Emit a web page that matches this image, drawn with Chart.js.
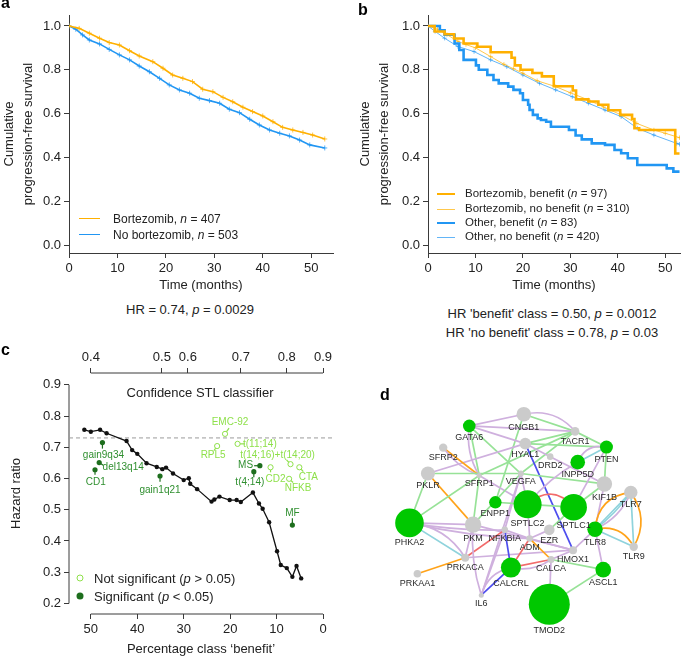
<!DOCTYPE html>
<html>
<head>
<meta charset="utf-8">
<script src="https://cdn.jsdelivr.net/npm/chart.js@4.4.1/dist/chart.umd.min.js"></script>
<style>
  body { margin: 0; background: #fff; font-family: "Liberation Sans", Arial, sans-serif; color: #222; }
  #page { position: relative; width: 685px; height: 659px; overflow: hidden; }
  canvas { position: absolute; }
  .lbl { position: absolute; white-space: nowrap; line-height: 1; }
  .mid { transform: translate(-50%, -50%); }
  .vmid { transform: translateY(-50%); }
  .key { position: absolute; height: 0; }
  .dot { position: absolute; width: 7px; height: 7px; border-radius: 50%; transform: translate(-50%, -50%); box-sizing: border-box; }
  .panel { position: absolute; font-weight: bold; font-size: 16px; line-height: 16px; color: #000; }
</style>
</head>
<body>
<div id="page">
  <canvas id="kmA" width="342" height="300" style="left:0;top:0"></canvas>
  <canvas id="kmB" width="343" height="300" style="left:342px;top:0"></canvas>
  <canvas id="hrC" width="342" height="319" style="left:0;top:340px"></canvas>
  <canvas id="netD" width="340" height="319" style="left:345px;top:340px"></canvas>

  <div class="panel" style="left:1px;top:-5px">a</div>
  <div class="panel" style="left:358px;top:2px">b</div>
  <div class="panel" style="left:1px;top:342px">c</div>
  <div class="panel" style="left:380px;top:387px">d</div>

  <!-- panel a legend + HR -->
  <div class="key" style="left:79px;top:218px;width:21px;border-top:1.6px solid #ffb000"></div>
  <div class="key" style="left:79px;top:234px;width:21px;border-top:1.6px solid #2196f3"></div>
  <div class="lbl vmid" style="left:113px;top:219px;font-size:12px">Bortezomib, <i>n</i> = 407</div>
  <div class="lbl vmid" style="left:113px;top:235px;font-size:12px">No bortezomib, <i>n</i> = 503</div>
  <div class="lbl mid" style="left:190px;top:309px;font-size:13px">HR = 0.74, <i>p</i> = 0.0029</div>

  <!-- panel b legend + HR -->
  <div class="key" style="left:437px;top:193px;width:18px;border-top:2.6px solid #ffb000"></div>
  <div class="key" style="left:437px;top:208.5px;width:18px;border-top:1px solid rgba(255,176,0,0.7)"></div>
  <div class="key" style="left:437px;top:222px;width:18px;border-top:2.6px solid #2196f3"></div>
  <div class="key" style="left:437px;top:236.5px;width:18px;border-top:1px solid rgba(33,150,243,0.7)"></div>
  <div class="lbl vmid" style="left:465px;top:194px;font-size:11.5px">Bortezomib, benefit (<i>n</i> = 97)</div>
  <div class="lbl vmid" style="left:465px;top:209px;font-size:11.5px">Bortezomib, no benefit (<i>n</i> = 310)</div>
  <div class="lbl vmid" style="left:465px;top:223px;font-size:11.5px">Other, benefit (<i>n</i> = 83)</div>
  <div class="lbl vmid" style="left:465px;top:237px;font-size:11.5px">Other, no benefit (<i>n</i> = 420)</div>
  <div class="lbl mid" style="left:552px;top:313px;font-size:13px">HR 'benefit' class = 0.50, <i>p</i> = 0.0012</div>
  <div class="lbl mid" style="left:552px;top:332px;font-size:13px">HR 'no benefit' class = 0.78, <i>p</i> = 0.03</div>

  <!-- panel c extra text + legend -->
  <div class="lbl mid" style="left:200px;top:392px;font-size:13px">Confidence STL classifier</div>
  <div class="dot" style="left:80px;top:578px;border:1px solid #8ee04a;background:#fff"></div>
  <div class="dot" style="left:80px;top:596px;background:#1d6e1d"></div>
  <div class="lbl vmid" style="left:94px;top:578px;font-size:13px">Not significant (<i>p</i> &gt; 0.05)</div>
  <div class="lbl vmid" style="left:94px;top:596px;font-size:13px">Significant (<i>p</i> &lt; 0.05)</div>
</div>

<script>
// ---------- panel a: progression-free survival ----------
const aTimeBort = [0, 2.1, 4.2, 6.3, 8.3, 10.4, 12.5, 14.5, 17.3, 19.4, 21.4, 23.5, 25.5, 27.6, 29.7, 31.8, 33.8, 35.9, 37.9, 40.0, 42.1, 44.1, 46.2, 48.3, 50.3, 52.8];
const aSurvBort = [1.0, 0.989, 0.967, 0.944, 0.924, 0.913, 0.887, 0.863, 0.837, 0.807, 0.776, 0.761, 0.746, 0.711, 0.700, 0.674, 0.654, 0.629, 0.609, 0.589, 0.563, 0.537, 0.525, 0.514, 0.502, 0.484];
const aTimeNone = [0, 1.4, 2.8, 4.2, 6.3, 8.3, 10.4, 12.5, 14.5, 16.6, 18.7, 20.7, 22.8, 24.9, 26.9, 29.0, 31.1, 33.1, 35.2, 37.3, 39.3, 41.4, 43.5, 45.5, 47.6, 49.7, 52.8];
const aSurvNone = [1.0, 0.985, 0.959, 0.936, 0.918, 0.893, 0.868, 0.845, 0.817, 0.791, 0.761, 0.731, 0.708, 0.693, 0.670, 0.659, 0.647, 0.620, 0.604, 0.574, 0.548, 0.525, 0.510, 0.498, 0.479, 0.457, 0.443];

// ---------- panel b: split by STL class ----------
const bTimeBortBen = [0, 1.4, 3.5, 5.5, 7.5, 10.4, 13.2, 17.6, 18.3, 19.5, 22, 24, 26.5, 30.5, 31.2, 33.8, 35.9, 38, 40.5, 43, 43.5, 44.5, 52.1, 53];
const bSurvBortBen = [1.0, 0.975, 0.962, 0.943, 0.92, 0.905, 0.88, 0.855, 0.82, 0.80, 0.785, 0.77, 0.725, 0.705, 0.665, 0.655, 0.64, 0.615, 0.594, 0.575, 0.533, 0.525, 0.418, 0.418];
const bTimeBortNo = [0, 2, 4, 6.3, 8, 10, 13.2, 16, 18, 20, 23, 26.9, 30, 33.8, 37, 40.7, 44, 47.6, 50, 53];
const bSurvBortNo = [1.0, 0.985, 0.96, 0.93, 0.915, 0.90, 0.86, 0.825, 0.805, 0.784, 0.75, 0.723, 0.695, 0.662, 0.63, 0.594, 0.555, 0.525, 0.51, 0.49];
const bTimeOthBen = [0, 2.5, 3.5, 5.6, 6.6, 7.5, 10.1, 10.7, 12.5, 13.8, 14.9, 16.9, 18, 19.4, 20, 21.1, 21.4, 22.1, 23.1, 23.8, 24.9, 25.9, 29.7, 31.1, 32.4, 34.5, 37.3, 39.3, 40.7, 42.1, 44.1, 50.3, 51.7, 53];
const bSurvOthBen = [1.0, 0.98, 0.96, 0.92, 0.89, 0.845, 0.82, 0.80, 0.776, 0.753, 0.738, 0.723, 0.708, 0.693, 0.662, 0.64, 0.616, 0.594, 0.578, 0.571, 0.563, 0.54, 0.525, 0.50, 0.482, 0.464, 0.457, 0.434, 0.419, 0.396, 0.365, 0.35, 0.335, 0.335];
const bTimeOthNo = [0, 1.5, 3.5, 6.3, 9.7, 13.2, 16.6, 20, 23.5, 26.9, 30.4, 33.8, 37.3, 40.7, 44.1, 47.6, 52.4, 53];
const bSurvOthNo = [1.0, 0.975, 0.944, 0.906, 0.883, 0.845, 0.814, 0.776, 0.738, 0.708, 0.677, 0.647, 0.616, 0.586, 0.533, 0.502, 0.464, 0.46];

const survTicks = [0, 0.2, 0.4, 0.6, 0.8, 1.0];
const timeTicks = [0, 10, 20, 30, 40, 50];

// ---------- panel c: hazard ratio vs class size ----------
const cPct = [51.4, 50.0, 48.0, 46.6, 42.3, 41.1, 40.0, 38.0, 35.8, 34.6, 33.8, 32.3, 30.0, 28.9, 28.6, 27.1, 24.0, 23.4, 22.3, 20.1, 18.6, 17.7, 15.1, 13.8, 13.0, 11.6, 9.9, 9.1, 7.8, 6.6, 5.7, 4.7];
const cHR  = [0.756, 0.750, 0.756, 0.745, 0.720, 0.691, 0.679, 0.649, 0.637, 0.630, 0.635, 0.616, 0.595, 0.601, 0.583, 0.566, 0.526, 0.533, 0.542, 0.531, 0.531, 0.525, 0.555, 0.520, 0.503, 0.460, 0.367, 0.323, 0.313, 0.285, 0.320, 0.280];
const hrTicks = [0.2, 0.3, 0.4, 0.5, 0.6, 0.7, 0.8, 0.9];
const pctTicks = [50, 40, 30, 20, 10, 0];
const confLabels = ['0.4', '0.5', '0.6', '0.7', '0.8', '0.9'];
const confPct = [50, 34.7, 29.1, 17.7, 7.8, 0];
const hrCutoff = 0.73;

const markerNames = ['gain9q34', 'del13q14', 'CD1', 'gain1q21', 'MS', 't(4;14)', 'MF', 'EMC-92', 'RPL5', 't(11;14)', 't(14;16)+t(14;20)', 'CD2', 'NFKB', 'CTA'];
const markerPct   = [47.5, 48.2, 49.1, 35.1, 13.6, 14.9, 6.6, 21.1, 22.8, 18.4, 7.0, 11.3, 7.3, 5.1];
const markerHR    = [0.715, 0.651, 0.628, 0.608, 0.641, 0.622, 0.451, 0.743, 0.704, 0.711, 0.646, 0.636, 0.599, 0.636];
const markerSig   = [1, 1, 1, 1, 1, 1, 1, 0, 0, 0, 0, 0, 0, 0];

// ---------- panel d: gene network ----------
const geneNames = ['CNGB1', 'TACR1', 'GATA6', 'HYAL1', 'SFRP2', 'PTEN', 'DRD2', 'INPP5D', 'PKLR', 'SFRP1', 'VEGFA', 'KIF1B', 'TLR7', 'ENPP1', 'SPTLC2', 'SPTLC1', 'PHKA2', 'PKM', 'TLR8', 'NFKBIA', 'EZR', 'ADM', 'TLR9', 'HMOX1', 'PRKACA', 'CALCA', 'CALCRL', 'ASCL1', 'PRKAA1', 'IL6', 'TMOD2'];
const geneX = [54.0, 71.5, 35.4, 54.5, 26.5, 82.2, 63.0, 72.4, 21.3, 38.8, 53.0, 81.5, 90.5, 44.3, 55.3, 71.0, 15.0, 36.7, 78.3, 47.5, 62.7, 56.0, 91.5, 70.8, 34.0, 63.3, 49.6, 81.1, 17.7, 39.5, 62.7];
const geneY = [18.5, 24.4, 22.5, 28.6, 30.0, 29.8, 33.1, 35.0, 38.9, 39.6, 38.9, 42.5, 45.4, 48.8, 49.5, 50.5, 55.9, 56.5, 58.1, 58.3, 58.3, 61.3, 64.1, 65.3, 67.9, 68.5, 71.3, 72.0, 73.4, 80.8, 83.9];
const geneSize = [7.3, 4.3, 6.3, 5.8, 4.2, 6.5, 3.3, 7.3, 7.0, 2.5, 3.0, 7.7, 6.7, 6.2, 14.0, 13.3, 14.3, 8.2, 7.7, 3.3, 5.3, 3.3, 4.2, 4.0, 4.0, 3.5, 10.0, 7.8, 3.8, 2.5, 20.5];
const geneHit = [0, 0, 1, 0, 0, 1, 0, 1, 0, 0, 0, 0, 0, 1, 1, 1, 1, 0, 1, 0, 0, 0, 0, 0, 0, 0, 1, 1, 0, 0, 1];

// interaction: [gene, gene, kind]
const links = [
  ['CNGB1', 'TACR1', 'coexp'], ['CNGB1', 'TACR1', 'path'], ['CNGB1', 'GATA6', 'path'], ['CNGB1', 'ENPP1', 'coexp'],
  ['GATA6', 'TACR1', 'path'], ['GATA6', 'HYAL1', 'path'], ['GATA6', 'SFRP1', 'coexp'], ['GATA6', 'SFRP1', 'path'],
  ['GATA6', 'VEGFA', 'coexp'], ['HYAL1', 'TACR1', 'coexp'], ['HYAL1', 'PTEN', 'coexp'], ['TACR1', 'PTEN', 'coexp'],
  ['TACR1', 'SFRP1', 'coexp'], ['TACR1', 'VEGFA', 'coexp'], ['HYAL1', 'PKLR', 'path'], ['HYAL1', 'HMOX1', 'phys'],
  ['HYAL1', 'DRD2', 'path'], ['SFRP2', 'SFRP1', 'domain'], ['SFRP2', 'SFRP1', 'path'], ['PKLR', 'VEGFA', 'coexp'],
  ['PKLR', 'PKM', 'domain'], ['PHKA2', 'PKLR', 'coexp'], ['PHKA2', 'SFRP1', 'coexp'], ['SFRP1', 'PKM', 'coexp'],
  ['SFRP1', 'SPTLC2', 'path'], ['VEGFA', 'KIF1B', 'coexp'], ['VEGFA', 'PKM', 'coexp'], ['VEGFA', 'SPTLC2', 'path'],
  ['VEGFA', 'NFKBIA', 'path'], ['VEGFA', 'IL6', 'path'], ['DRD2', 'KIF1B', 'path'], ['INPP5D', 'PTEN', 'pred'],
  ['INPP5D', 'PTEN', 'path'], ['INPP5D', 'SPTLC2', 'path'], ['PTEN', 'KIF1B', 'coexp'], ['PTEN', 'SPTLC1', 'path'],
  ['KIF1B', 'SPTLC1', 'coexp'], ['KIF1B', 'TLR8', 'path'], ['ENPP1', 'SPTLC2', 'coexp'], ['SPTLC2', 'SPTLC1', 'coexp'],
  ['SPTLC2', 'SPTLC1', 'genetic'], ['SPTLC2', 'ADM', 'path'], ['SPTLC1', 'EZR', 'coexp'], ['TLR8', 'TLR7', 'domain'],
  ['TLR8', 'TLR7', 'pred'], ['TLR8', 'TLR7', 'pred'], ['TLR8', 'TLR7', 'path'], ['TLR7', 'TLR9', 'domain'],
  ['TLR7', 'TLR9', 'pred'], ['TLR8', 'TLR9', 'domain'], ['TLR8', 'TLR9', 'pred'], ['TLR8', 'ASCL1', 'path'],
  ['TLR8', 'HMOX1', 'path'], ['PHKA2', 'PKM', 'path'], ['PHKA2', 'NFKBIA', 'path'], ['PHKA2', 'ADM', 'path'],
  ['PHKA2', 'PRKACA', 'pred'], ['PHKA2', 'PRKACA', 'path'], ['PKM', 'PRKACA', 'path'], ['PKM', 'HMOX1', 'path'],
  ['PRKACA', 'HMOX1', 'path'], ['PRKACA', 'NFKBIA', 'genetic'], ['PRKAA1', 'PRKACA', 'domain'], ['NFKBIA', 'CALCRL', 'phys'],
  ['NFKBIA', 'IL6', 'path'], ['NFKBIA', 'ADM', 'path'], ['IL6', 'CALCRL', 'phys'], ['IL6', 'CALCRL', 'path'],
  ['IL6', 'PKM', 'path'], ['EZR', 'ADM', 'path'], ['ADM', 'HMOX1', 'path'], ['ADM', 'CALCA', 'domain'],
  ['ADM', 'CALCRL', 'genetic'], ['CALCRL', 'CALCA', 'genetic'], ['CALCRL', 'CALCA', 'path'], ['CALCA', 'ASCL1', 'coexp'],
  ['CALCA', 'TMOD2', 'path'], ['ASCL1', 'TMOD2', 'coexp'], ['CALCA', 'HMOX1', 'path']
];

// ---------- styles ----------
const ORANGE = '#ffb000', BLUE = '#2196f3';
const SIG_DOT = '#1d6e1d', SIG_TXT = '#2f8f2f', NS_COL = '#8ee04a';
const linkColor = { path: '#cfb0de', coexp: '#97e297', domain: '#ffa31a', phys: '#4d4dee', genetic: '#f26b6b', pred: '#8fd3dc' };
// curvature of some links, keyed by index in links
const linkBend = { 1: -0.3, 7: 0.18, 18: 0.15, 32: -0.4, 33: 0.1, 40: -0.5, 43: -0.4, 45: 0.08, 46: 0.2, 47: -0.32, 49: -0.38, 54: 0.05, 55: 0.05, 57: -0.25, 67: -0.3, 68: -0.1, 74: 0.22 };
const markerLayout = {
  'gain9q34': [1, 13, 0, 6], 'del13q14': [24, 4.6, 4, 2.7], 'CD1': [0.7, 12.7, 0, 5], 'gain1q21': [0, 14, 0, 5.7],
  'MS': [-14.3, 0, -5.7, 0], 't(4;14)': [-4, 10.7, 0, 5.7], 'MF': [0, -11.7, 0, -6.7],
  'EMC-92': [5, -11.3, 4, -5.7], 'RPL5': [-4, 9.7, -3.3, 4.7], 't(11;14)': [22.3, 0, 7.3, 0],
  't(14;16)+t(14;20)': [-13, -9.3, -4, -4.3], 'CD2': [5, 11.7, 0, 5], 'NFKB': [9, 9.3, 4, 3.7], 'CTA': [9, 10, 4, 4.3]
};

Chart.defaults.font.family = "'Liberation Sans', Arial, sans-serif";
Chart.defaults.color = '#222';
Chart.defaults.animation = false;
Chart.defaults.responsive = false;
Chart.defaults.plugins.legend.display = false;
Chart.defaults.plugins.tooltip.enabled = false;

function pts(xs, ys) { return xs.map((v, i) => ({ x: v, y: ys[i] })); }

function axis(o) {
  return {
    type: 'linear', min: o.min, max: o.max, reverse: !!o.reverse, position: o.position,
    border: { display: o.border !== false, color: '#3a3a3a', width: 1 },
    grid: { drawOnChartArea: false, drawTicks: true, tickLength: 5, color: '#3a3a3a' },
    ticks: { font: { size: 13 }, color: '#222', padding: 3, autoSkip: false, maxRotation: 0, callback: o.fmt },
    afterBuildTicks: s => { s.ticks = o.ticks.map(v => ({ value: v })); },
    afterFit: s => { if (s.isHorizontal()) s.height = o.size; else s.width = o.size; },
    title: o.title ? { display: true, text: o.title, color: '#222', font: { size: 13, lineHeight: 1.45 }, padding: o.tpad } : { display: false }
  };
}
const fmt1 = v => v.toFixed(1);
const fmt0 = v => String(v);
const kmTitle = ['Cumulative', 'progression-free survival'];

// ---------- panel a ----------
new Chart(document.getElementById('kmA'), {
  type: 'line',
  data: {
    datasets: [
      { data: pts(aTimeBort, aSurvBort), borderColor: ORANGE, borderWidth: 1.6, pointStyle: 'cross', pointRadius: 2.5, pointBorderColor: 'rgba(255,176,0,0.75)', pointBorderWidth: 1 },
      { data: pts(aTimeNone, aSurvNone), borderColor: BLUE, borderWidth: 1.6, pointStyle: 'cross', pointRadius: 2.5, pointBorderColor: 'rgba(33,150,243,0.75)', pointBorderWidth: 1 }
    ]
  },
  options: {
    layout: { padding: { top: 15, right: 9, left: 0, bottom: 0 } },
    scales: {
      x: axis({ min: 0, max: 54.5, ticks: timeTicks, fmt: fmt0, size: 47, position: 'bottom', title: 'Time (months)', tpad: { top: 0, bottom: 5 } }),
      y: axis({ min: -0.0365, max: 1.05, ticks: survTicks, fmt: fmt1, size: 69, position: 'left', title: kmTitle, tpad: { top: 0, bottom: 0 } })
    }
  }
});

// ---------- panel b ----------
new Chart(document.getElementById('kmB'), {
  type: 'line',
  data: {
    datasets: [
      { data: pts(bTimeBortBen, bSurvBortBen), borderColor: ORANGE, borderWidth: 2.6, stepped: 'before', pointRadius: 0, order: 0 },
      { data: pts(bTimeOthBen, bSurvOthBen), borderColor: BLUE, borderWidth: 2.6, stepped: 'before', pointRadius: 0, order: 0 },
      { data: pts(bTimeBortNo, bSurvBortNo), borderColor: 'rgba(255,176,0,0.7)', borderWidth: 1, pointStyle: 'cross', pointRadius: 2.2, pointBorderColor: 'rgba(255,176,0,0.6)', pointBorderWidth: 1, order: 1 },
      { data: pts(bTimeOthNo, bSurvOthNo), borderColor: 'rgba(33,150,243,0.7)', borderWidth: 1, pointStyle: 'cross', pointRadius: 2.2, pointBorderColor: 'rgba(33,150,243,0.6)', pointBorderWidth: 1, order: 1 }
    ]
  },
  options: {
    layout: { padding: { top: 15, right: 0, left: 0, bottom: 0 } },
    scales: {
      x: axis({ min: 0, max: 53.1, ticks: timeTicks, fmt: fmt0, size: 47, position: 'bottom', title: 'Time (months)', tpad: { top: 0, bottom: 5 } }),
      y: axis({ min: -0.0365, max: 1.05, ticks: survTicks, fmt: fmt1, size: 86, position: 'left', title: kmTitle, tpad: { top: 14, bottom: 0 } })
    }
  }
});

// ---------- panel c ----------
const cPlugin = {
  id: 'hrDecor',
  beforeDatasetsDraw(chart) {
    const { ctx, chartArea: ca, scales: { x, x2, y } } = chart;
    ctx.save();
    // range-frame axis lines
    ctx.strokeStyle = '#3a3a3a'; ctx.lineWidth = 1;
    ctx.beginPath();
    ctx.moveTo(ca.left, y.getPixelForValue(0.2)); ctx.lineTo(ca.left, y.getPixelForValue(0.9));
    ctx.moveTo(x.getPixelForValue(50), ca.bottom); ctx.lineTo(x.getPixelForValue(0), ca.bottom);
    ctx.moveTo(x2.getPixelForValue(confPct[0]), ca.top); ctx.lineTo(x2.getPixelForValue(confPct[confPct.length - 1]), ca.top);
    ctx.stroke();
    // HR cut-off
    const yc = y.getPixelForValue(hrCutoff);
    ctx.strokeStyle = '#9a9a9a'; ctx.setLineDash([4, 3]);
    ctx.beginPath(); ctx.moveTo(ca.left, yc); ctx.lineTo(ca.right, yc); ctx.stroke();
    ctx.setLineDash([]);
    // stems
    ctx.lineWidth = 1.2;
    markerNames.forEach((n, i) => {
      const px = x.getPixelForValue(markerPct[i]), py = y.getPixelForValue(markerHR[i]);
      const L = markerLayout[n];
      ctx.strokeStyle = markerSig[i] ? SIG_DOT : NS_COL;
      ctx.beginPath(); ctx.moveTo(px, py); ctx.lineTo(px + L[2], py + L[3]); ctx.stroke();
    });
    ctx.restore();
  },
  afterDatasetsDraw(chart) {
    const { ctx, scales: { x, y } } = chart;
    ctx.save();
    ctx.font = "10px 'Liberation Sans', Arial, sans-serif";
    ctx.textAlign = 'center'; ctx.textBaseline = 'middle';
    markerNames.forEach((n, i) => {
      const px = x.getPixelForValue(markerPct[i]), py = y.getPixelForValue(markerHR[i]);
      const L = markerLayout[n];
      ctx.fillStyle = markerSig[i] ? SIG_TXT : NS_COL;
      ctx.fillText(n, px + L[0], py + L[1]);
    });
    ctx.restore();
  }
};

const sigIdx = markerNames.map((n, i) => i).filter(i => markerSig[i]);
const nsIdx = markerNames.map((n, i) => i).filter(i => !markerSig[i]);

new Chart(document.getElementById('hrC'), {
  type: 'scatter',
  data: {
    datasets: [
      { data: sigIdx.map(i => ({ x: markerPct[i], y: markerHR[i] })), pointRadius: 2.6, backgroundColor: SIG_DOT, borderWidth: 0 },
      { data: nsIdx.map(i => ({ x: markerPct[i], y: markerHR[i] })), pointRadius: 2.6, backgroundColor: '#fff', borderColor: NS_COL, borderWidth: 1 },
      { data: pts(cPct, cHR), showLine: true, borderColor: '#111', borderWidth: 1.3, pointRadius: 2.2, backgroundColor: '#111', pointBorderWidth: 0 }
    ]
  },
  options: {
    layout: { padding: { top: 0, right: 9, left: 0, bottom: 0 } },
    scales: {
      x: axis({ min: -2.15, max: 54.7, reverse: true, ticks: pctTicks, fmt: fmt0, size: 45, position: 'bottom', border: false, title: 'Percentage class \u2018benefit\u2019', tpad: { top: 0, bottom: 0 } }),
      x2: axis({ min: -2.15, max: 54.7, reverse: true, ticks: confPct, fmt: (v, i) => confLabels[i], size: 33, position: 'top', border: false }),
      y: axis({ min: 0.166, max: 0.938, ticks: hrTicks, fmt: fmt1, size: 69, position: 'left', border: false, title: 'Hazard ratio', tpad: { top: 7, bottom: 0 } })
    }
  },
  plugins: [cPlugin]
});

// ---------- panel d ----------
const netPlugin = {
  id: 'network',
  beforeDatasetsDraw(chart) {
    const { ctx, scales: { x, y } } = chart;
    ctx.save();
    ctx.lineWidth = 1.7;
    links.forEach(([a, b, kind], k) => {
      const i = geneNames.indexOf(a), j = geneNames.indexOf(b);
      const x1 = x.getPixelForValue(geneX[i]), y1 = y.getPixelForValue(geneY[i]);
      const x2 = x.getPixelForValue(geneX[j]), y2 = y.getPixelForValue(geneY[j]);
      const bend = linkBend[k] || 0;
      ctx.strokeStyle = linkColor[kind];
      ctx.beginPath(); ctx.moveTo(x1, y1);
      if (bend) {
        const dx = x2 - x1, dy = y2 - y1;
        ctx.quadraticCurveTo((x1 + x2) / 2 - dy * bend, (y1 + y2) / 2 + dx * bend, x2, y2);
      } else {
        ctx.lineTo(x2, y2);
      }
      ctx.stroke();
    });
    ctx.restore();
  },
  afterDatasetsDraw(chart) {
    const { ctx, scales: { x, y } } = chart;
    ctx.save();
    ctx.font = "9px 'Liberation Sans', Arial, sans-serif";
    ctx.fillStyle = '#2a2a2a'; ctx.textAlign = 'center'; ctx.textBaseline = 'top';
    geneNames.forEach((g, i) => {
      ctx.fillText(g, x.getPixelForValue(geneX[i]), y.getPixelForValue(geneY[i]) + geneSize[i] + 1);
    });
    ctx.restore();
  }
};

new Chart(document.getElementById('netD'), {
  type: 'bubble',
  data: {
    datasets: [{
      data: geneNames.map((g, i) => ({ x: geneX[i], y: geneY[i], r: geneSize[i] })),
      backgroundColor: geneHit.map(h => h ? '#00c800' : '#cbcbcb'),
      borderWidth: 0, clip: false
    }]
  },
  options: {
    layout: { padding: 0 },
    scales: {
      x: { type: 'linear', display: false, min: 0, max: 102 },
      y: { type: 'linear', display: false, min: 0, max: 95.7, reverse: true }
    }
  },
  plugins: [netPlugin]
});
</script>
</body>
</html>
